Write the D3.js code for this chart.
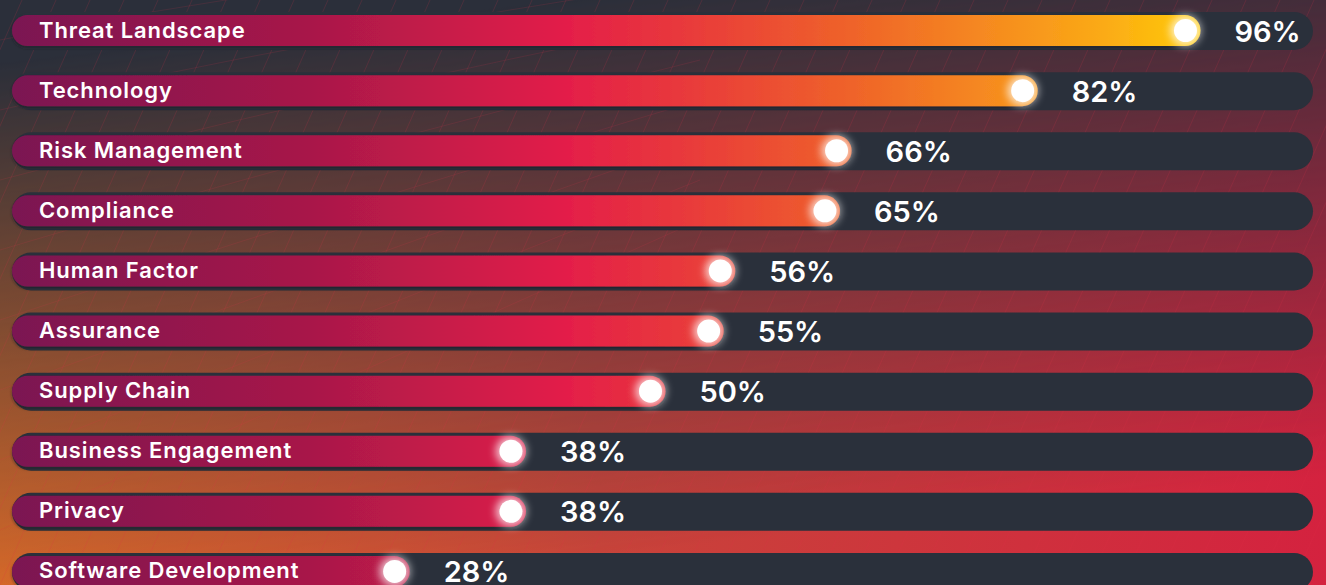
<!DOCTYPE html>
<html>
<head>
<meta charset="utf-8">
<script src="https://cdn.jsdelivr.net/npm/d3@7"></script>
<style>
  html, body { margin: 0; padding: 0; background: #2b2f3a; overflow: hidden; }
  svg { display: block; }
</style>
</head>
<body>
<svg id="chart" width="1326" height="585"></svg>
<script>
const categories = ["Threat Landscape", "Technology", "Risk Management", "Compliance", "Human Factor",
  "Assurance", "Supply Chain", "Business Engagement", "Privacy", "Software Development"];
const values = [96, 82, 66, 65, 56, 55, 50, 38, 38, 28];
const valueLabels = ["96%", "82%", "66%", "65%", "56%", "55%", "50%", "38%", "38%", "28%"];

const W = 1326, H = 585;
const svg = d3.select("#chart");
const defs = svg.append("defs");

// Background gradients
const bgH = defs.append("linearGradient").attr("id", "bgH").attr("x1", "0").attr("x2", "1").attr("y1", "0").attr("y2", "0");
bgH.append("stop").attr("offset", "0").attr("stop-color", "#e06c28");
bgH.append("stop").attr("offset", "0.45").attr("stop-color", "#c8443a");
bgH.append("stop").attr("offset", "1").attr("stop-color", "#d4223f");

const bgM = defs.append("linearGradient").attr("id", "bgMaskGrad")
  .attr("x1", "0").attr("x2", "0.25").attr("y1", "0").attr("y2", "1");
bgM.append("stop").attr("offset", "0").attr("stop-color", "#000");
bgM.append("stop").attr("offset", "0.1").attr("stop-color", "#000");
bgM.append("stop").attr("offset", "0.55").attr("stop-color", "#808080");
bgM.append("stop").attr("offset", "1").attr("stop-color", "#fff");
defs.append("mask").attr("id", "bgMask")
  .append("rect").attr("width", W).attr("height", H).attr("fill", "url(#bgMaskGrad)");

svg.append("rect").attr("width", W).attr("height", H).attr("fill", "#2b2f3a");
svg.append("rect").attr("width", W).attr("height", H).attr("fill", "url(#bgH)").attr("mask", "url(#bgMask)");

// faint decorative grid lines
const lineG = svg.append("g").attr("stroke", "#e0304a").attr("stroke-width", 1).attr("fill", "none").attr("opacity", 0.16);
d3.range(-20, 40).forEach(i => {
  const x0 = i * 34;
  lineG.append("line").attr("x1", x0).attr("y1", H).attr("x2", x0 + 260).attr("y2", 0);
});
const lg2 = svg.append("g").attr("stroke", "#e0304a").attr("stroke-width", 1).attr("fill", "none").attr("opacity", 0.14);
d3.range(0, 8).forEach(i => {
  lg2.append("path").attr("d", `M0,${40 + i * 70} Q300,${-20 + i * 60} 700,${-60 + i * 40}`);
});

// Bar gradient (absolute in x)
const barGrad = defs.append("linearGradient").attr("id", "barGrad")
  .attr("gradientUnits", "userSpaceOnUse").attr("x1", 12).attr("x2", 1200).attr("y1", 0).attr("y2", 0);
[[0, "#7b1452"], [0.25, "#a81849"], [0.47, "#e41f48"], [0.6, "#ea4337"], [0.71, "#ef6429"],
 [0.83, "#f68d1f"], [0.92, "#fbab15"], [1, "#ffcb08"]].forEach(([o, c]) =>
  barGrad.append("stop").attr("offset", o).attr("stop-color", c));

// filters
const glow = defs.append("filter").attr("id", "glow").attr("x", "-100%").attr("y", "-100%").attr("width", "300%").attr("height", "300%");
glow.append("feGaussianBlur").attr("stdDeviation", 4);

const shadow = defs.append("filter").attr("id", "shadow").attr("x", "-5%").attr("y", "-50%").attr("width", "110%").attr("height", "200%");
shadow.append("feDropShadow").attr("dx", 0).attr("dy", 2).attr("stdDeviation", 1.5).attr("flood-color", "#1a1d25").attr("flood-opacity", 0.6);

// scales
const x = d3.scaleLinear().domain([0, 100]).range([69, 1232]);
const y = d3.scaleBand().domain(categories).range([1, 1 + 60.1 * categories.length]).paddingInner(0.37).paddingOuter(0.185);

const trackX = 12, trackW = 1301, trackH = 38, fillInset = 3.5;
const fillH = trackH - 2 * fillInset;

const rows = svg.append("g").selectAll("g").data(categories).join("g")
  .attr("transform", d => `translate(0,${y(d) + y.bandwidth() / 2})`);

rows.append("rect")
  .attr("x", trackX).attr("y", -trackH / 2).attr("width", trackW).attr("height", trackH)
  .attr("rx", trackH / 2).attr("fill", "#2a303b");

rows.append("rect")
  .attr("x", trackX).attr("y", -fillH / 2 - 0.5)
  .attr("width", (d, i) => x(values[i]) + 15 - trackX).attr("height", fillH)
  .attr("rx", fillH / 2).attr("fill", "url(#barGrad)").attr("filter", "url(#shadow)");

rows.append("circle")
  .attr("cx", (d, i) => x(values[i])).attr("cy", -0.5).attr("r", 15)
  .attr("fill", "#ffffff").attr("opacity", 0.75).attr("filter", "url(#glow)");

rows.append("circle")
  .attr("cx", (d, i) => x(values[i])).attr("cy", -0.5).attr("r", 11.5)
  .attr("fill", "#ffffff");

rows.append("text")
  .attr("x", 39).attr("y", 6.5)
  .attr("fill", "#ffffff")
  .style("font-family", "Inter, 'Open Sans', sans-serif")
  .style("font-weight", 600)
  .style("font-size", "22px")
  .style("letter-spacing", "0.9px")
  .text(d => d);

rows.append("text")
  .attr("x", (d, i) => x(values[i]) + 49).attr("y", 10.5)
  .attr("fill", "#ffffff")
  .style("font-family", "Inter, 'Open Sans', sans-serif")
  .style("font-weight", 600)
  .style("font-size", "29px")
  .text((d, i) => valueLabels[i]);
</script>
</body>
</html>
